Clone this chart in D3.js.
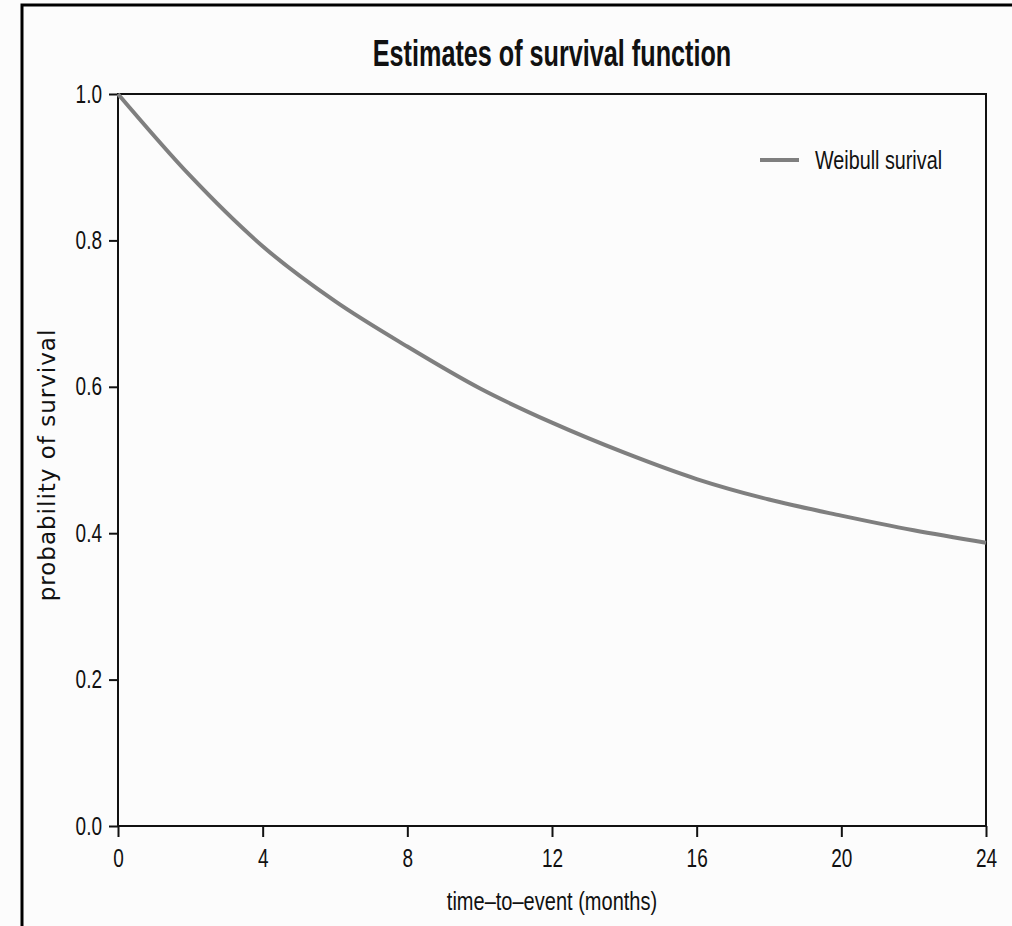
<!DOCTYPE html>
<html>
<head>
<meta charset="utf-8">
<script src="https://cdn.jsdelivr.net/npm/d3@7"></script>
<style>
  body { margin: 0; background: #fcfcfc; }
  svg { display: block; }
</style>
</head>
<body>
<div id="wrapper"></div>
<script>
// values
const months = [0, 2, 4, 6, 8, 10, 12, 14, 16, 18, 20, 22, 24]
const survival = [1.0, 0.888, 0.792, 0.717, 0.655, 0.598, 0.551, 0.510, 0.474, 0.446, 0.424, 0.404, 0.387]
const xTicks = [0, 4, 8, 12, 16, 20, 24]
const yTicks = [0, 0.2, 0.4, 0.6, 0.8, 1.0]
const seriesName = "Weibull surival"

// squeeze text horizontally, the reference uses a condensed face
const condense = (sel, factor) => sel.each(function () {
    const len = this.getComputedTextLength()
    d3.select(this)
        .attr("textLength", len * factor)
        .attr("lengthAdjust", "spacingAndGlyphs")
})

function drawChart() {
    const data = months.map((m, i) => ({ t: m, s: survival[i] }))
    const xAccessor = d => d.t
    const yAccessor = d => d.s

    const dims = {
        width: 1012,
        height: 926,
        margin: { top: 94, right: 26, bottom: 100, left: 118 },
    }
    dims.boundedWidth = dims.width - dims.margin.left - dims.margin.right
    dims.boundedHeight = dims.height - dims.margin.top - dims.margin.bottom

    const font = "'Liberation Sans Narrow', 'Liberation Sans', Arial, sans-serif"

    const wrapper = d3.select("#wrapper")
        .append("svg")
        .attr("width", dims.width)
        .attr("height", dims.height)
        .style("background", "#fcfcfc")

    // outer frame (only left and top edges visible)
    wrapper.append("path")
        .attr("d", `M22,${dims.height} L22,5 L${dims.width},5`)
        .attr("fill", "none")
        .attr("stroke", "black")
        .attr("stroke-width", 3)

    const bounds = wrapper.append("g")
        .attr("transform", `translate(${dims.margin.left},${dims.margin.top})`)

    const xScale = d3.scaleLinear()
        .domain([0, 24])
        .range([0, dims.boundedWidth])

    const yScale = d3.scaleLinear()
        .domain([0, 1])
        .range([dims.boundedHeight, 0])

    // axes
    const yAxis = bounds.append("g")
        .call(d3.axisLeft(yScale)
            .tickValues(yTicks)
            .tickFormat(d3.format(".1f"))
            .tickSize(9)
            .tickSizeOuter(0)
            .tickPadding(7))
    const xAxis = bounds.append("g")
        .attr("transform", `translate(0,${dims.boundedHeight})`)
        .call(d3.axisBottom(xScale)
            .tickValues(xTicks)
            .tickSize(11)
            .tickSizeOuter(0)
            .tickPadding(12))

    ;[xAxis, yAxis].forEach(ax => {
        ax.select(".domain").remove()
        ax.selectAll("line").attr("stroke", "#111").attr("stroke-width", 2)
        ax.selectAll("text")
            .style("font-family", font)
            .style("font-size", "25px")
            .attr("fill", "#111")
            .call(condense, 0.76)
    })

    // plot frame
    bounds.append("rect")
        .attr("width", dims.boundedWidth)
        .attr("height", dims.boundedHeight)
        .attr("fill", "none")
        .attr("stroke", "#111")
        .attr("stroke-width", 2)

    // survival curve
    const lineGenerator = d3.line()
        .x(d => xScale(xAccessor(d)))
        .y(d => yScale(yAccessor(d)))
        .curve(d3.curveMonotoneX)

    bounds.append("path")
        .attr("d", lineGenerator(data))
        .attr("fill", "none")
        .attr("stroke", "#7f7f7f")
        .attr("stroke-width", 4)

    // legend
    const legend = bounds.append("g")
        .attr("transform", `translate(${dims.boundedWidth - 226},66)`)
    legend.append("line")
        .attr("x1", 0).attr("x2", 39)
        .attr("stroke", "#7f7f7f")
        .attr("stroke-width", 4)
    legend.append("text")
        .attr("x", 55)
        .attr("y", 9)
        .text(seriesName)
        .style("font-family", font)
        .style("font-size", "26px")
        .attr("fill", "#111")
        .call(condense, 0.76)

    // title
    wrapper.append("text")
        .attr("x", dims.margin.left + dims.boundedWidth / 2)
        .attr("y", 66)
        .attr("text-anchor", "middle")
        .text("Estimates of survival function")
        .style("font-family", font)
        .style("font-weight", "bold")
        .style("font-size", "36px")
        .attr("fill", "#111")
        .call(condense, 0.7)

    // axis labels
    wrapper.append("text")
        .attr("x", dims.margin.left + dims.boundedWidth / 2)
        .attr("y", 910)
        .attr("text-anchor", "middle")
        .text("time\u2013to\u2013event (months)")
        .style("font-family", font)
        .style("font-size", "26px")
        .attr("fill", "#111")
        .call(condense, 0.77)

    wrapper.append("text")
        .attr("transform", "translate(55,465) rotate(-90)")
        .attr("text-anchor", "middle")
        .text("probability of survival")
        .style("font-family", "'DejaVu Sans', Verdana, sans-serif")
        .style("font-size", "23px")
        .style("letter-spacing", "1px")
        .attr("fill", "#111")
}

drawChart()
</script>
</body>
</html>
